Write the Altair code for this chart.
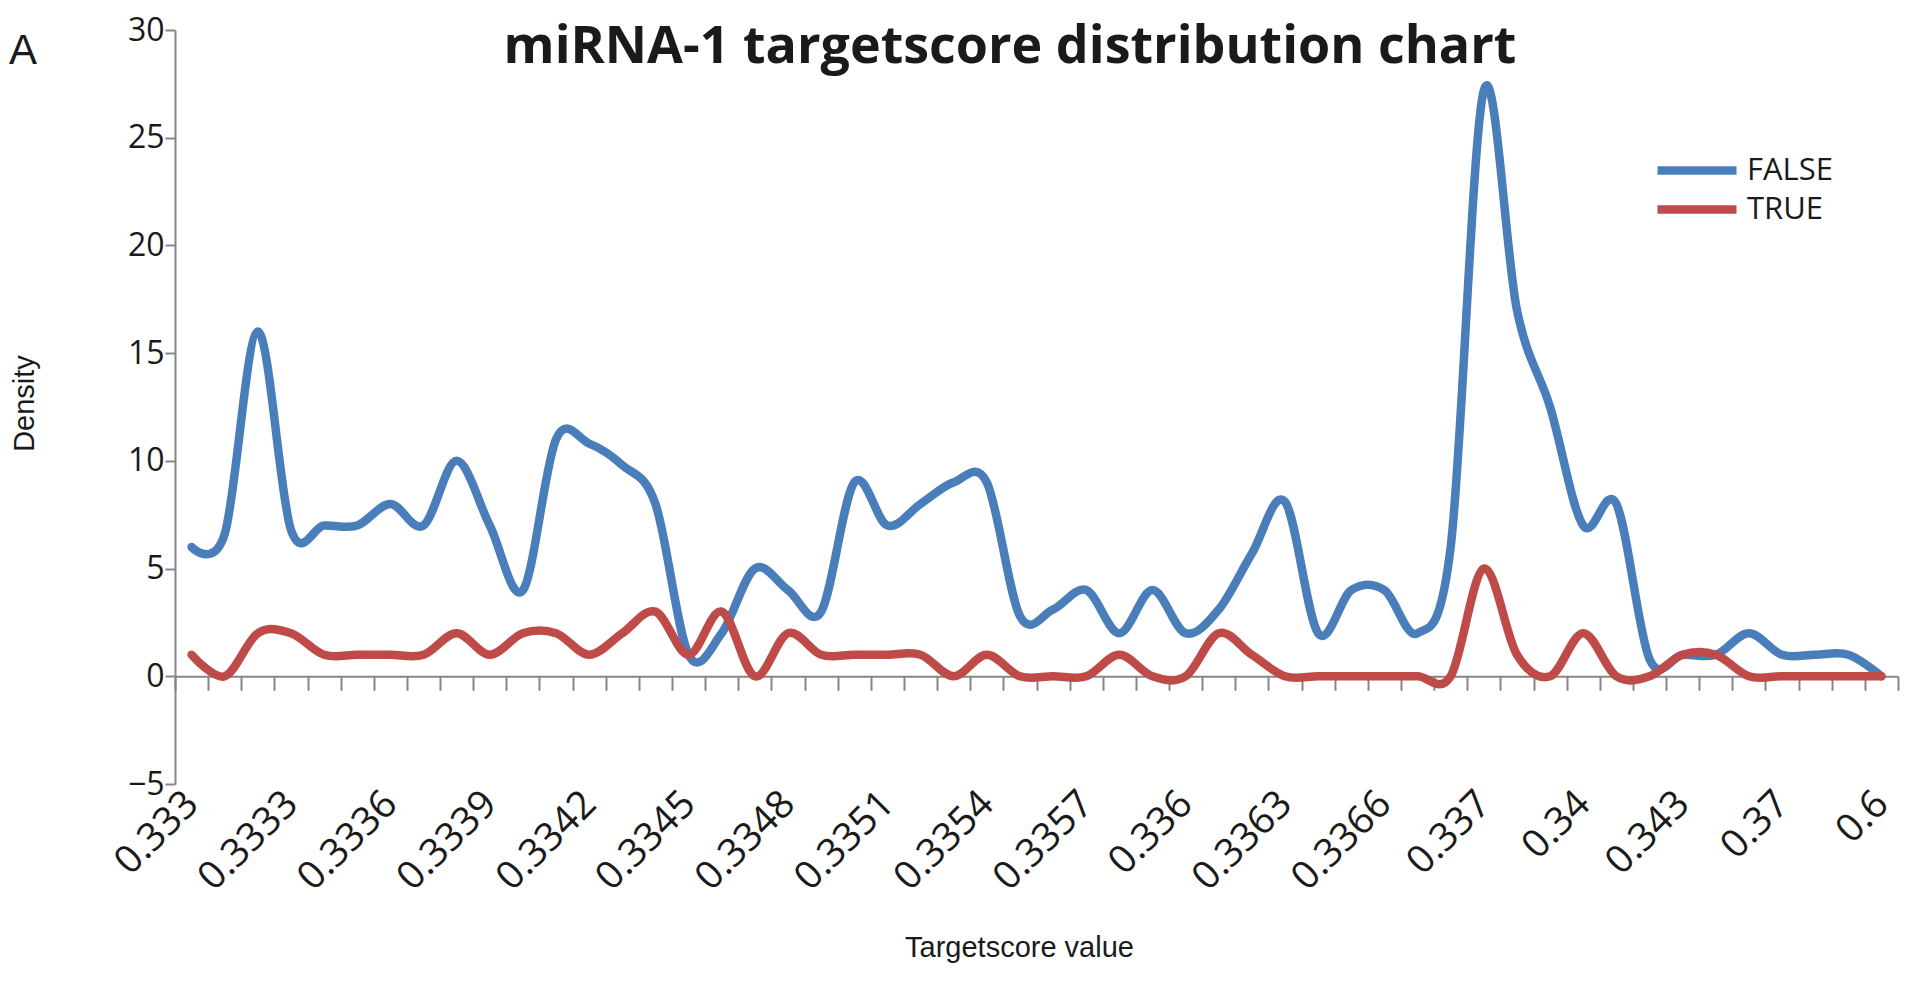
import altair as alt
import pandas as pd

# ---- data ----
categories = [
    "0.333", "0.3331", "0.3332", "0.3333", "0.3334", "0.3335", "0.3336", "0.3337",
    "0.3338", "0.3339", "0.334", "0.3341", "0.3342", "0.3343", "0.3344", "0.3345",
    "0.3346", "0.3347", "0.3348", "0.3349", "0.335", "0.3351", "0.3352", "0.3353",
    "0.3354", "0.3355", "0.3356", "0.3357", "0.3358", "0.3359", "0.336", "0.3361",
    "0.3362", "0.3363", "0.3364", "0.3365", "0.3366", "0.3367", "0.3368", "0.337",
    "0.338", "0.339", "0.34", "0.341", "0.342", "0.343", "0.35", "0.36", "0.37",
    "0.4", "0.5", "0.6",
]
shown_labels = [
    "0.333", "0.3333", "0.3336", "0.3339", "0.3342", "0.3345", "0.3348", "0.3351",
    "0.3354", "0.3357", "0.336", "0.3363", "0.3366", "0.337", "0.34", "0.343",
    "0.37", "0.6",
]
false_density = [
    6, 6.6, 16, 6.8, 7, 7, 8, 7, 10, 7,
    4, 11.0, 10.8, 9.8, 8, 1, 2, 5, 4, 3,
    9, 7, 8, 9, 9.0, 2.8, 3.1, 4, 2, 4,
    2, 3.1, 5.7, 8.1, 2, 4, 4, 2, 6, 27.2,
    17, 12.5, 7, 8, 0.8, 1, 1, 2, 1, 1,
    1, 0,
]
true_density = [
    1, 0, 2, 2, 1, 1, 1, 1, 2, 1,
    2, 2, 1, 2, 3, 1, 3, 0, 2, 1,
    1, 1, 1, 0, 1, 0, 0, 0, 1, 0,
    0, 2, 1, 0, 0, 0, 0, 0, 0, 5,
    1, 0, 2, 0, 0, 1, 1, 0, 0, 0,
    0, 0,
]
series_names = ["FALSE", "TRUE"]
series_colors = ["#4A7EBB", "#BE4B48"]
y_ticks = [-5, 0, 5, 10, 15, 20, 25, 30]
chart_title = "miRNA-1 targetscore distribution chart"

n = len(categories)
df = pd.DataFrame({
    "Targetscore": categories * 2,
    "Density": false_density + true_density,
    "Series": ["FALSE"] * n + ["TRUE"] * n,
    "order": list(range(n)) * 2,
})

W, H = 1723, 754
px_per_unit = H / 35.0
label_list = ",".join("'" + s + "'" for s in shown_labels)
label_expr = f"indexof([{label_list}], datum.label) >= 0 ? datum.label : ''"

num_font = "Open Sans"
txt_font = "Liberation Sans"
axis_grey = "#868686"
ink = "#1a1a1a"

lines = alt.Chart(df).mark_line(
    interpolate="cardinal", tension=0, strokeWidth=8.5,
    strokeCap="round", strokeJoin="round",
).encode(
    x=alt.X(
        "Targetscore:N", sort=categories, bandPosition=0.5,
        scale=alt.Scale(type="band", paddingInner=0, paddingOuter=0),
        axis=alt.Axis(
            title="Targetscore value", titleFont=txt_font, titleFontSize=29,
            titleFontWeight="normal", titleColor=ink,
            titleX=844, titleY=271, titleAlign="center", titleBaseline="middle",
            labelExpr=label_expr, labelAngle=-45, labelAlign="right",
            labelBaseline="middle", labelFont=num_font, labelFontSize=39,
            labelColor=ink, labelOverlap=False, labelPadding=107,
            tickBand="extent", tickSize=14, tickColor=axis_grey, tickWidth=2,
            domainColor=axis_grey, domainWidth=2, offset=-5 * px_per_unit,
            grid=False,
        ),
    ),
    y=alt.Y(
        "Density:Q",
        scale=alt.Scale(domain=[-5, 30], nice=False, zero=False),
        axis=alt.Axis(
            values=y_ticks, grid=False, title="Density", titleFont=txt_font,
            titleFontSize=29, titleFontWeight="normal", titleColor=ink,
            titleAngle=270, titleX=-151, titleY=373, titleAlign="center",
            titleBaseline="middle",
            labelFont=num_font, labelFontSize=32, labelColor=ink,
            labelPadding=1, tickSize=10, tickColor=axis_grey, tickWidth=2,
            domainColor=axis_grey, domainWidth=2,
        ),
    ),
    color=alt.Color(
        "Series:N",
        scale=alt.Scale(domain=series_names, range=series_colors),
        legend=alt.Legend(
            title=None, orient="none", legendX=1478, legendY=121,
            symbolType="stroke", symbolStrokeWidth=8.5, symbolSize=6241,
            labelFont=num_font, labelFontSize=31, labelColor=ink,
            labelOffset=6, clipHeight=39, rowPadding=0, padding=0,
        ),
    ),
    order=alt.Order("order:Q"),
)

panel_letter = alt.Chart(pd.DataFrame({"t": ["A"]})).mark_text(
    font=txt_font, fontSize=42, align="left", baseline="alphabetic", color=ink,
).encode(text="t:N", x=alt.value(-166), y=alt.value(34))

title_text = alt.Chart(pd.DataFrame({"t": [chart_title]})).mark_text(
    font=num_font, fontSize=52, fontWeight="bold", align="center",
    baseline="alphabetic", color=ink,
).encode(text="t:N", x=alt.value(835), y=alt.value(33))

chart = alt.layer(lines, panel_letter, title_text).properties(
    width=W, height=H,
    padding={"left": 167, "top": 22, "right": 7, "bottom": 195},
    autosize=alt.AutoSizeParams(type="none"),
).configure_view(stroke=None)

chart.save("out.html", embed_options={"renderer": "svg", "actions": False})
